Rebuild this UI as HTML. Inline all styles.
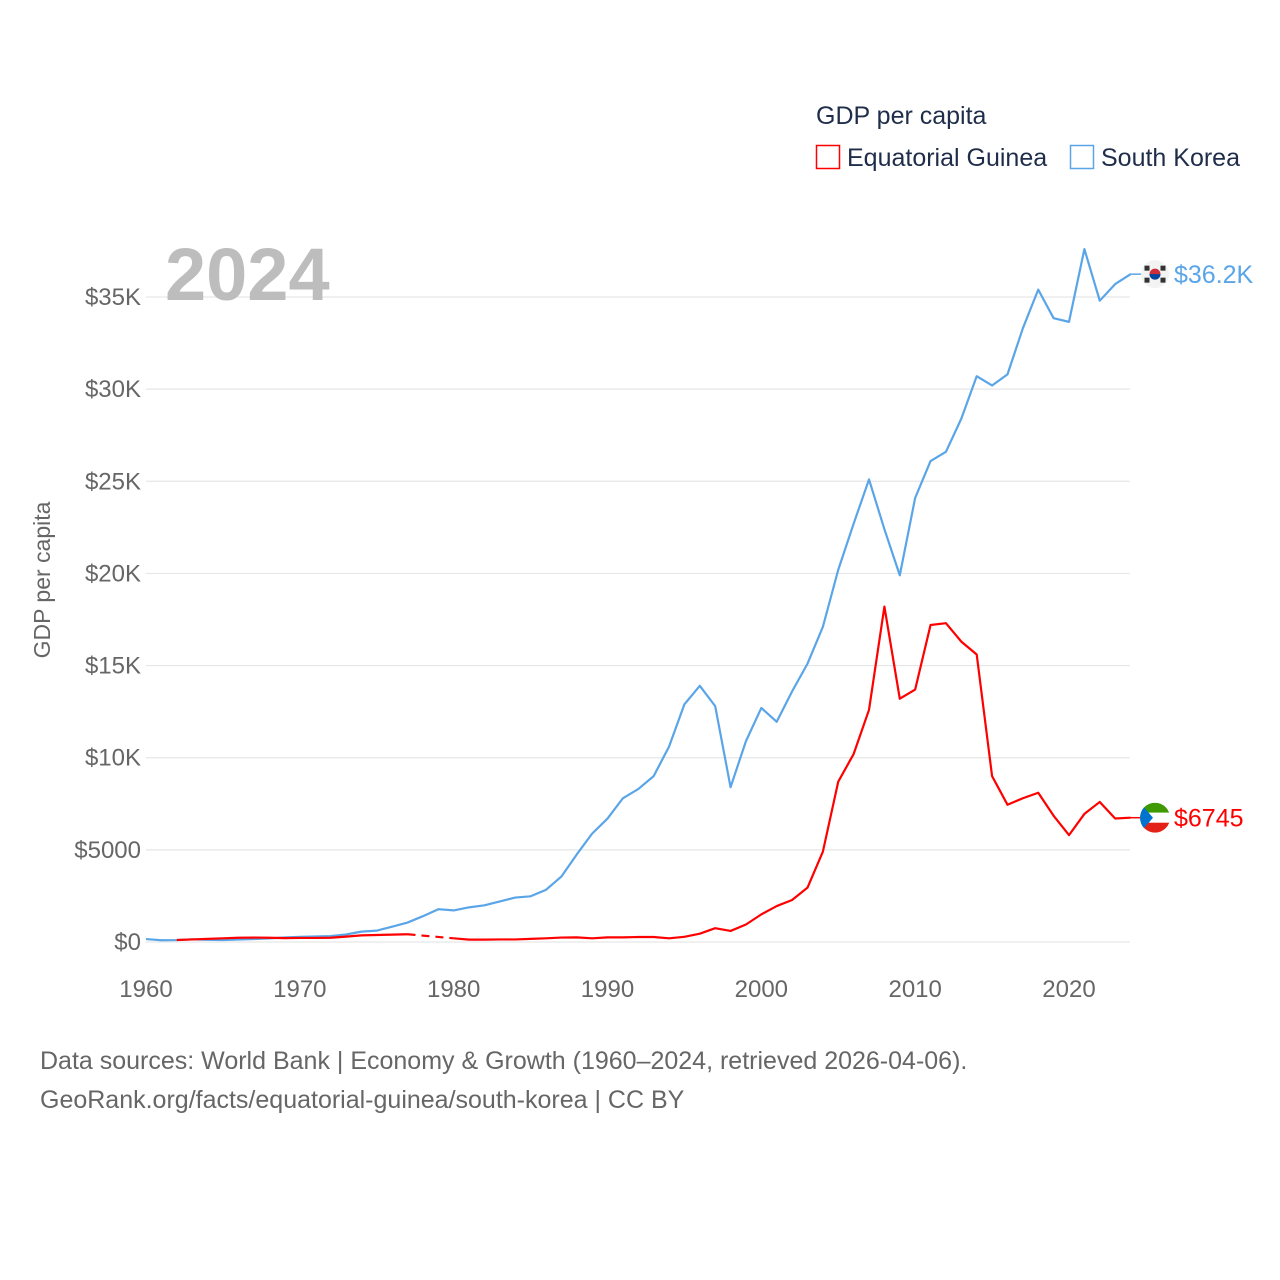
<!DOCTYPE html>
<html><head><meta charset="utf-8"><style>
body{margin:0;background:#fff;}
svg{display:block;font-family:"Liberation Sans",sans-serif;}
</style></head><body>
<svg id="chart" width="1280" height="1280" viewBox="0 0 1280 1280">
<g id="grid"></g>
<g id="yticks"></g>
<g id="xticks"></g>
<text x="50" y="580" transform="rotate(-90 50 580)" text-anchor="middle" font-size="23" fill="#666">GDP per capita</text>
<text x="165" y="300" font-size="74" font-weight="bold" fill="#bdbdbd">2024</text>
<g>
<text x="816" y="124" font-size="25" fill="#1f2d4a">GDP per capita</text>
<g><rect x="816.5" y="145.5" width="23" height="23" fill="none" stroke="#f00" stroke-width="1.5"/><text x="847" y="166" font-size="25" fill="#1f2d4a">Equatorial Guinea</text></g>
<g><rect x="1070.5" y="145.5" width="23" height="23" fill="none" stroke="#5aa5e8" stroke-width="1.5"/><text x="1101" y="166" font-size="25" fill="#1f2d4a">South Korea</text></g>
</g>
<g id="series"></g>
<g id="ends"></g>
<text x="40" y="1069" font-size="25" fill="#666">Data sources: World Bank | Economy &amp; Growth (1960–2024, retrieved 2026-04-06).</text>
<text x="40" y="1108" font-size="25" fill="#666">GeoRank.org/facts/equatorial-guinea/south-korea | CC BY</text>
</svg>
<script>
const years=[];for(let y=1960;y<=2024;y++)years.push(y);
const korea=[160,94,106,146,123,108,133,161,196,243,279,300,323,406,563,617,830,1055,1400,1780,1715,1880,1990,2200,2410,2480,2830,3550,4750,5880,6700,7800,8300,9000,10600,12900,13900,12800,8400,10900,12700,11950,13600,15100,17100,20200,22700,25100,22400,19900,24100,26100,26600,28400,30700,30200,30800,33300,35400,33850,33650,37600,34800,35700,36240];
const guinea=[null,null,110,140,170,200,230,240,230,210,220,220,230,290,360,380,400,420,null,null,200,130,130,140,140,170,200,240,250,200,250,250,270,270,200,280,450,750,600,950,1500,1950,2280,2950,4900,8700,10200,12600,18200,13200,13700,17200,17300,16300,15600,9000,7450,7800,8100,6850,5800,6950,7600,6700,6745];
const yTicks=[0,5000,10000,15000,20000,25000,30000,35000];
const yTickLabels=["$0","$5000","$10K","$15K","$20K","$25K","$30K","$35K"];
const xTicks=[1960,1970,1980,1990,2000,2010,2020];
const NS="http://www.w3.org/2000/svg";
const X=y=>146+(y-1960)*(923/60);
const Y=v=>942-v*(645/35000);
function mk(t,a,p){const e=document.createElementNS(NS,t);for(const k in a)e.setAttribute(k,a[k]);p.appendChild(e);return e;}
const grid=document.getElementById('grid'),yt=document.getElementById('yticks'),xt=document.getElementById('xticks');
yTicks.forEach((v,i)=>{
 const l=mk('line',{x1:146,x2:1130,y1:Y(v),y2:Y(v),stroke:'#e6e6e6','stroke-width':1.2},grid);
 
 
 const t=mk('text',{x:141,y:Y(v)+8,'text-anchor':'end','font-size':24,fill:'#666'},yt);
 t.textContent=yTickLabels[i];
 
 
});
xTicks.forEach(v=>{
 const t=mk('text',{x:X(v),y:997,'text-anchor':'middle','font-size':24,fill:'#666'},xt);
 t.textContent=v;
 
 
});
const ser=document.getElementById('series');
function draw(vals,color,name){
 let segs=[],cur=[];
 vals.forEach((v,i)=>{if(v==null){if(cur.length)segs.push(cur);cur=[];}else cur.push([X(years[i]),Y(v)]);});
 if(cur.length)segs.push(cur);
 segs.forEach((s,k)=>{
  const p=mk('polyline',{points:s.map(q=>q.join(',')).join(' '),fill:'none',stroke:color,'stroke-width':2.2,'stroke-linejoin':'round'},ser);
  
  
  if(k<segs.length-1){const a=s[s.length-1],b=segs[k+1][0];
   const d=mk('line',{x1:a[0],y1:a[1],x2:b[0],y2:b[1],stroke:color,'stroke-width':2.2,'stroke-dasharray':'8,6'},ser);
   
   }
 });
}
draw(korea,'#5aa5e8','south-korea');
draw(guinea,'#f00','equatorial-guinea');
const ends=document.getElementById('ends');
const kLast=korea[korea.length-1],gLast=guinea[guinea.length-1];
const ky=Y(kLast);
mk('line',{x1:1130,x2:1142,y1:ky,y2:ky,stroke:'#5aa5e8','stroke-width':1.5},ends);
const kf=mk('g',{},ends);


mk('circle',{cx:1155,cy:ky,r:14,fill:'#f3f3f3'},kf);
mk('circle',{cx:1155,cy:ky,r:5.5,fill:'#cd2e3a'},kf);
mk('path',{d:`M${1149.5} ${ky} a5.5 5.5 0 0 0 11 0z`,fill:'#0047a0'},kf);
[[-8,-6],[8,-6],[-8,6],[8,6]].forEach(o=>mk('rect',{x:1155+o[0]-2.5,y:ky+o[1]-2.5,width:5,height:5,fill:'#333'},kf));
const kt=mk('text',{x:1174,y:ky+9,'font-size':25,fill:'#5aa5e8'},ends);
kt.textContent='$'+(kLast/1000).toFixed(1)+'K';


const gy=Y(gLast);
mk('line',{x1:1130,x2:1142,y1:gy,y2:gy,stroke:'#f00','stroke-width':1.5},ends);
const gf=mk('g',{},ends);


mk('clipPath',{id:'gc'},gf).appendChild(document.createElementNS(NS,'circle'));
const cc=gf.querySelector('#gc circle');cc.setAttribute('cx',1155);cc.setAttribute('cy',gy);cc.setAttribute('r',15);
const gg=mk('g',{'clip-path':'url(#gc)'},gf);
mk('rect',{x:1140,y:gy-15,width:30,height:10,fill:'#3e9a00'},gg);
mk('rect',{x:1140,y:gy-5,width:30,height:10,fill:'#fff'},gg);
mk('rect',{x:1140,y:gy+5,width:30,height:10,fill:'#e32118'},gg);
mk('path',{d:`M1140 ${gy-15} L1153 ${gy} L1140 ${gy+15}z`,fill:'#0073ce'},gg);
const gt=mk('text',{x:1174,y:gy+9,'font-size':25,fill:'#f00'},ends);
gt.textContent='$'+gLast;


</script>
</body></html>
